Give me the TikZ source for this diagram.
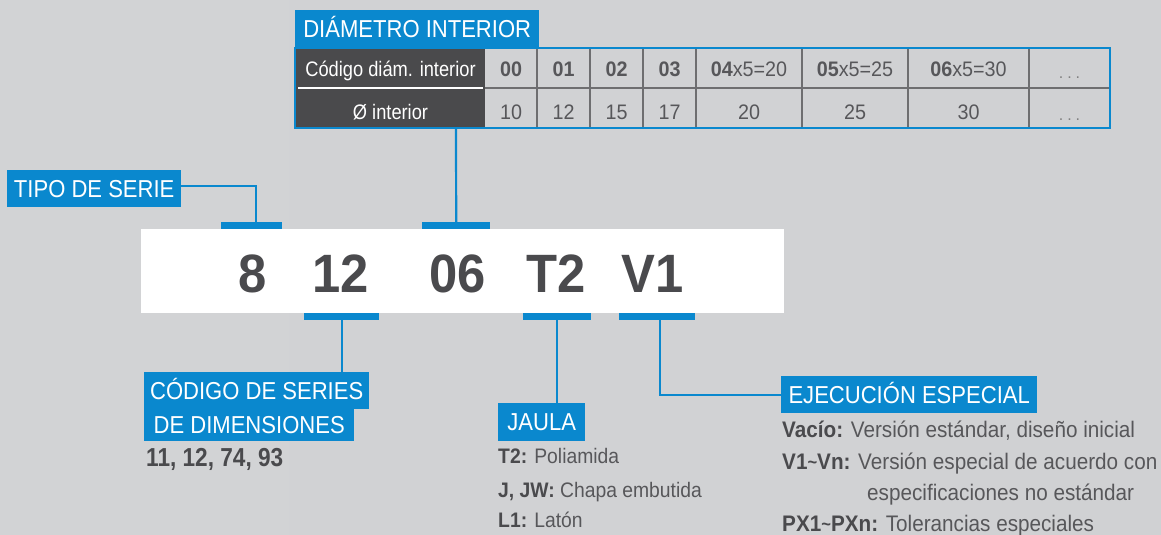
\documentclass[tikz,border=0pt]{standalone}
\usepackage{fontspec}
\setmainfont{Liberation Sans}
\newfontfamily\capf[FakeStretch=0.9]{Liberation Sans}
\newfontfamily\cndf[FakeStretch=0.87]{Liberation Sans}
\newfontfamily\nrwf[FakeStretch=0.94]{Liberation Sans}
\newfontfamily\bodyf[FakeStretch=0.92]{Liberation Sans}
\definecolor{bluec}{HTML}{0A88CE}
\definecolor{darkt}{HTML}{4A4A4D}
\definecolor{lightt}{HTML}{57575A}
\definecolor{hdr}{HTML}{4A4A4C}
\definecolor{gridc}{HTML}{6E6E70}
\definecolor{bgL}{HTML}{D2D3D5}
\definecolor{bgM}{HTML}{E2E3E5}
\definecolor{bgR}{HTML}{D0D1D3}
\newcommand{\tld}{\raisebox{1pt}{\scalebox{0.8}{\textasciitilde}}}
\begin{document}
\begin{tikzpicture}[x=1pt,y=-1pt,
  lbl/.style={fill=bluec, text=white, font=\capf\fontsize{24.5}{28}\selectfont, inner sep=0pt,
    minimum height=37pt, text height=17.5pt, text depth=0pt, anchor=north west},
  bar/.style={fill=bluec, inner sep=0pt, minimum height=7pt, anchor=north west},
  conn/.style={draw=bluec, line width=2.2pt},
  big/.style={anchor=base, text=darkt, font=\nrwf\bfseries\fontsize{54}{54}\selectfont, inner sep=0pt},
  gridl/.style={draw=gridc, line width=1.5pt},
  hd/.style={anchor=base, text=white, font=\cndf\fontsize{21}{24}\selectfont, inner sep=0pt},
  cell/.style={anchor=base, text=lightt, font=\nrwf\fontsize{21}{24}\selectfont, inner sep=0pt},
  dots/.style={anchor=base, text=gray, font=\fontsize{16}{18}\selectfont, inner sep=0pt},
  body/.style={anchor=base west, text=lightt, font=\bodyf\fontsize{22.5}{26}\selectfont, inner sep=0pt},
  bodyj/.style={anchor=base west, text=lightt, font=\bodyf\fontsize{21}{24}\selectfont, inner sep=0pt}
]
\useasboundingbox (0,0) rectangle (1161,535);
\shade[left color=bgL, middle color=bgM, right color=bgR] (0,0) rectangle (1161,535);

% ---- table ----
\fill[hdr] (296,48) rectangle (485,128);
\draw[white, line width=1.2pt] (298,88) -- (483,88);
\draw[gridl] (485,88) -- (1110,88);
\foreach \x in {537,590,643,696,802,908,1029} \draw[gridl] (\x,48) -- (\x,128);
\draw[bluec, line width=2.2pt] (295,48) rectangle (1110,128);
\node[lbl, minimum width=244pt] (diam) at (295,10) {DIÁMETRO INTERIOR};
\coordinate (tabbot) at (456,128);

\node[hd] (h1) at (390.5,77) {Código diám. interior};
\node[hd] (h2) at (390.5,119) {Ø interior};
\node[cell] (c00) at (511,77) {\bfseries 00};
\node[cell] (c01) at (563.5,77) {\bfseries 01};
\node[cell] (c02) at (616.5,77) {\bfseries 02};
\node[cell] (c03) at (669.5,77) {\bfseries 03};
\node[cell] (c04) at (749,77) {{\bfseries 04}x5=20};
\node[cell] (c05) at (855,77) {{\bfseries 05}x5=25};
\node[cell] (c06) at (968.5,77) {{\bfseries 06}x5=30};
\node[dots] (cdd) at (1069.5,78) {.\hspace{4pt}.\hspace{4pt}.};
\node[cell] (d10) at (511,119) {10};
\node[cell] (d12) at (563.5,119) {12};
\node[cell] (d15) at (616.5,119) {15};
\node[cell] (d17) at (669.5,119) {17};
\node[cell] (d20) at (749,119) {20};
\node[cell] (d25) at (855,119) {25};
\node[cell] (d30) at (968.5,119) {30};
\node[dots] (ddd) at (1069.5,120) {.\hspace{4pt}.\hspace{4pt}.};

% ---- code strip ----
\fill[white] (141,229) rectangle (784,313);
\node[big] (n8) at (253,292) {8};
\node[big] (n12) at (341,292) {12};
\node[big] (n06) at (458,292) {06};
\node[big] (nT2) at (556,292) {T2};
\node[big] (nV1) at (653,292) {V1};

\node[bar, minimum width=61pt] (bar8) at (221,222) {};
\node[bar, minimum width=68pt] (bar06) at (422,222) {};
\node[bar, minimum width=75pt] (bar12) at (304,313) {};
\node[bar, minimum width=68pt] (barT2) at (523,313) {};
\node[bar, minimum width=76pt] (barV1) at (619,313) {};

% ---- labels ----
\node[lbl, minimum width=174pt] (tipo) at (7,170) {TIPO DE SERIE};
\node[lbl, minimum width=225pt] (cod1) at (144,372) {CÓDIGO DE SERIES};
\node[lbl, minimum width=210pt, minimum height=32pt] (cod2) at (144,409) {DE DIMENSIONES};
\node[lbl, minimum width=87pt, minimum height=38pt] (jaula) at (498,403) {JAULA};
\node[lbl, minimum width=256pt] (ejec) at (781,376) {EJECUCIÓN ESPECIAL};

% ---- connectors ----
\draw[conn] ([yshift=2.5pt]tipo.east) -| ([xshift=4.5pt]bar8.north);
\draw[conn] (tabbot) -- (bar06.north);
\draw[conn] (bar12.south) -- (cod1.north -| bar12.south);
\draw[conn] (barT2.south) -- (jaula.north -| barT2.south);
\draw[conn] ([xshift=3pt]barV1.south) |- (ejec.west);

% ---- texts ----
\node[anchor=base west, text=darkt, font=\cndf\bfseries\fontsize{26}{30}\selectfont, inner sep=0pt] (series) at (146,466) {11, 12, 74, 93};

\node[bodyj] (j1) at (498,463) {{\bfseries\color{darkt}T2:} Poliamida};
\node[bodyj] (j2) at (498,497) {{\bfseries\color{darkt}J, JW:} Chapa embutida};
\node[bodyj] (j3) at (498,527) {{\bfseries\color{darkt}L1:} Latón};

\node[body] (e1) at (782,437) {{\bfseries\color{darkt}Vacío:} Versión estándar, diseño inicial};
\node[body] (e2) at (782,469) {{\bfseries\color{darkt}V1\tld Vn:} Versión especial de acuerdo con};
\node[body] (e3) at (867,500) {especificaciones no estándar};
\node[body] (e4) at (782,531) {{\bfseries\color{darkt}PX1\tld PXn:} Tolerancias especiales};
\end{tikzpicture}
\end{document}
